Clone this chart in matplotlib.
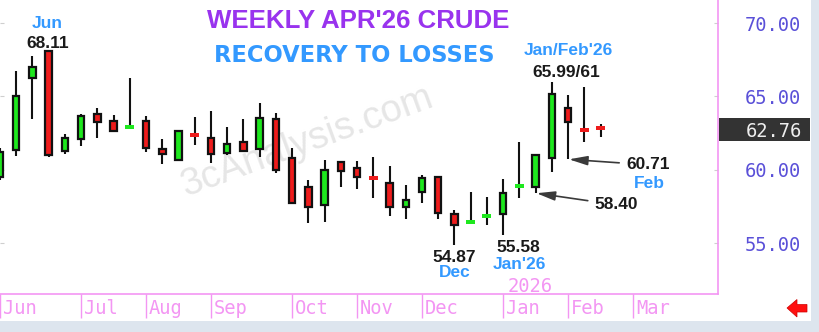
import numpy as np
import pandas as pd
import matplotlib
matplotlib.use("Agg")
import matplotlib.pyplot as plt
from matplotlib.patches import Rectangle, Polygon
from matplotlib.transforms import blended_transform_factory, ScaledTranslation

# ---------------- data ----------------
week_start = pd.date_range("2025-06-02", periods=38, freq="W-MON")
opens  = [59.50, 61.34, 66.23, 68.11, 61.27, 62.09, 63.80, 63.32, 62.85, 63.32,
          61.43, 60.66, 62.40, 62.18, 61.16, 61.87, 61.43, 63.43, 60.82, 58.84,
          57.59, 60.50, 60.09, 59.45, 59.11, 57.48, 58.50, 59.48, 56.98, 56.42,
          56.73, 56.98, 58.80, 58.80, 60.82, 64.23, 62.78, 62.98]
highs  = [61.50, 66.73, 67.75, 68.11, 62.43, 63.80, 64.18, 63.73, 66.23, 63.66,
          62.07, 62.70, 63.57, 64.00, 62.89, 63.43, 64.53, 63.84, 61.50, 59.30,
          60.66, 60.59, 60.59, 60.84, 60.25, 58.96, 59.64, 59.60, 57.25, 58.46,
          58.12, 59.34, 61.91, 61.05, 65.99, 65.09, 65.61, 63.09]
lows   = [59.30, 60.95, 63.43, 60.90, 61.07, 61.60, 62.14, 62.55, 62.85, 61.23,
          60.39, 60.60, 61.68, 60.43, 61.00, 61.20, 60.84, 59.80, 57.65, 56.39,
          56.46, 58.84, 58.66, 58.05, 56.84, 56.62, 57.75, 56.62, 54.87, 56.35,
          56.23, 55.58, 58.09, 58.40, 59.86, 60.71, 61.91, 62.25]
closes = [61.23, 65.04, 67.02, 61.00, 62.18, 63.66, 63.27, 62.66, 62.93, 61.46,
          61.07, 62.64, 62.34, 61.07, 61.75, 61.27, 63.54, 59.98, 57.71, 57.48,
          59.98, 59.93, 59.48, 59.38, 57.48, 57.93, 59.45, 57.07, 56.23, 56.50,
          56.98, 58.43, 59.02, 61.00, 65.14, 63.27, 62.68, 62.76]

axis_weeks = pd.date_range("2025-06-02", "2026-03-02", freq="W-MON")
month_labels = ["Jun", "Jul", "Aug", "Sep", "Oct", "Nov", "Dec", "Jan", "Feb", "Mar"]
price_ticks = [55, 60, 65, 70]
last_price = 62.76

title_text = "WEEKLY APR'26 CRUDE"
subtitle_text = "RECOVERY TO LOSSES"
watermark = "3cAnalysis.com"

# label callouts: (text, candle index, anchor price, dx px, dy px (up +), color)
callouts = [
    ("Jun", 3, 68.11, -1, 22.9, "blue"),
    ("68.11", 3, 68.11, -1, 2.9, "black"),
    ("Jan/Feb'26", 34, 65.99, 16.5, 26.8, "blue"),
    ("65.99/61", 34, 65.99, 14.5, 5.1, "black"),
    ("54.87", 28, 54.87, -0.5, -16.8, "black"),
    ("Dec", 28, 54.87, 0, -31.8, "blue"),
    ("55.58", 31, 55.58, 15.2, -17.2, "black"),
    ("Jan'26", 31, 55.58, 16, -34.5, "blue"),
    ("Feb", 35, 60.71, 81, -28.4, "blue"),
]
arrow_callouts = [
    ("60.71", 35, 60.71, 79, -10.0),
    ("58.40", 33, 58.40, 80, -16.1),
]

# ---------------- style ----------------
W, H = 820, 332
PINK = "#f396f3"
PRICE_COL = "#5a50d8"
BLUE = "#3399ff"
BLACK = "#1a1a1a"
GREEN = "#1ee81e"
RED = "#ee1c1c"
MONO = "DejaVu Sans Mono"
ARIAL = "Liberation Sans"
plt.rcParams["font.family"] = [MONO]

fig = plt.figure(figsize=(W / 100, H / 100), dpi=100)
fig.patch.set_facecolor("white")

ax_right_px, ax_bottom_px = 718, 294
ax = fig.add_axes([0, 1 - ax_bottom_px / H, ax_right_px / W, ax_bottom_px / H])
ax.set_facecolor("white")
px_per_week = 16.26
xmin = 0.08
ax.set_xlim(xmin, xmin + ax_right_px / px_per_week)
ax.set_ylim(51.53, 71.57)

for s in ("top", "left"):
    ax.spines[s].set_visible(False)
for s in ("right", "bottom"):
    ax.spines[s].set_color(PINK)
    ax.spines[s].set_linewidth(1.2)

# ---------------- candles ----------------
idx = np.arange(len(opens))
o = np.array(opens); h = np.array(highs); l = np.array(lows); c = np.array(closes)
ax.vlines(idx, l, h, color="#111111", lw=1.5, zorder=3)
body_w = 0.40
doji_w = 0.56
for i in idx:
    up = c[i] >= o[i]
    col = GREEN if up else RED
    if abs(c[i] - o[i]) < 0.3:
        hgt = max(abs(c[i] - o[i]), 0.28)
        mid = (o[i] + c[i]) / 2
        ax.add_patch(Rectangle((i - doji_w / 2, mid - hgt / 2), doji_w, hgt,
                               facecolor=col, edgecolor="none", zorder=4))
    else:
        lo_b = min(o[i], c[i])
        ax.add_patch(Rectangle((i - body_w / 2, lo_b), body_w, abs(c[i] - o[i]),
                               facecolor=col, edgecolor="#111111", lw=1.6, zorder=4))

# ---------------- axes ticks ----------------
month_idx = []
seen = set()
for k, d in enumerate(axis_weeks):
    key = (d.year, d.month)
    if key not in seen:
        seen.add(key)
        month_idx.append(k)
ax.set_xticks(month_idx)
ax.set_xticklabels([])
ax.tick_params(axis="x", direction="out", length=17.5, width=1.0, color=PINK)

trans_m = blended_transform_factory(ax.transData, ax.transAxes) + \
    ScaledTranslation(3 / 100, 0, fig.dpi_scale_trans)
for k, lab in zip(month_idx, month_labels):
    ax.text(k, -14 / ax_bottom_px, lab, transform=trans_m, ha="left", va="center",
            fontsize=13.5, color=PINK, family=MONO, clip_on=False)

ax.set_yticks(price_ticks)
ax.set_yticklabels([f"{v:.2f}" for v in price_ticks])
ax.tick_params(axis="y", left=True, right=True, labelleft=False, labelright=True,
               direction="in", length=3, width=0.8, color="#cfcfcf", pad=19.5,
               labelsize=13.5, labelcolor=PRICE_COL)

# current price box
blend_fy = blended_transform_factory(fig.transFigure, ax.transData)
ax.add_patch(Rectangle((719 / W, last_price - 0.78), 91 / W, 1.56, transform=blend_fy,
                       facecolor="#333333", edgecolor="none", clip_on=False, zorder=5))
ax.text((718 + 27.5) / W, last_price, f"{last_price:.2f}", transform=blend_fy,
        ha="left", va="center_baseline", fontsize=13.5, color="#eeeeee",
        family=MONO, clip_on=False, zorder=6)

# "2026" under January
trans_y = blended_transform_factory(ax.transData, ax.transAxes) + \
    ScaledTranslation(27 / 100, 0, fig.dpi_scale_trans)
ax.text(month_idx[7], 2.3 / ax_bottom_px, "2026", transform=trans_y, ha="center",
        va="baseline", fontsize=13.5, color=PINK, family=MONO)

# ---------------- annotations ----------------
P = 0.72  # px -> pt
for txt, i, p, dx, dy, col in callouts:
    ax.annotate(txt, xy=(i, p), xytext=(dx * P, dy * P), textcoords="offset points",
                ha="center", va="baseline", fontsize=12.5, fontweight="bold",
                family=ARIAL, color=BLUE if col == "blue" else BLACK, zorder=7,
                annotation_clip=False)
for txt, i, p, dx, dy in arrow_callouts:
    ax.annotate(txt, xy=(i + 0.05, p), xytext=(dx * P, dy * P), textcoords="offset points",
                ha="center", va="baseline", fontsize=12.5, fontweight="bold",
                family=ARIAL, color=BLACK, zorder=7,
                arrowprops=dict(arrowstyle="-|>,head_length=0.8,head_width=0.2",
                                color="#3a3a3a", lw=1.2, shrinkA=3, shrinkB=0,
                                mutation_scale=14))

# watermark
ax.text(307 / W, 1 - 142 / H, watermark, transform=fig.transFigure, ha="center",
        va="center", rotation=20, fontsize=27.5, family=ARIAL, color="#e6e6e6", zorder=0.5)

# titles
fig.text(358 / W, 1 - 28 / H, title_text, ha="center", va="baseline", fontsize=18.6,
         fontweight="bold", family=ARIAL, color="#9933ee")
fig.text(354 / W, 1 - 61.7 / H, subtitle_text, ha="center", va="baseline", fontsize=16.3,
         fontweight="bold", family="DejaVu Sans", color=BLUE)

# frame strips
fig.patches.append(Rectangle((0, 0), 1, 11 / H, transform=fig.transFigure,
                             facecolor="#dde5ee", edgecolor="none", zorder=-1))
fig.patches.append(Rectangle((811 / W, 0), 9 / W, 1, transform=fig.transFigure,
                             facecolor="#dde5ee", edgecolor="none", zorder=-1))

# red left arrow icon
pts = [(787, 308), (797, 299.5), (797, 304.5), (807, 304.5), (807, 312),
       (797, 312), (797, 317)]
fig.patches.append(Polygon([(x / W, 1 - y / H) for x, y in pts], closed=True,
                           transform=fig.transFigure, facecolor="#ff1010",
                           edgecolor="#cc0000", lw=0.5))

fig.savefig("out.png", dpi=100)
